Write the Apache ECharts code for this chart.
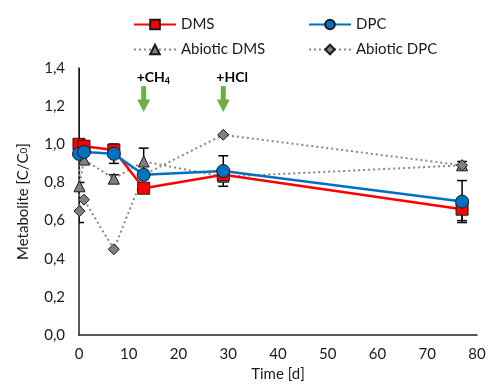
<!DOCTYPE html>
<html>
<head>
<meta charset="utf-8">
<script src="https://cdn.jsdelivr.net/npm/echarts@6/dist/echarts.min.js"></script>
<style>
  html, body { margin: 0; padding: 0; background: #fff; }
  #chart { width: 490px; height: 387px; }
</style>
</head>
<body>
<div id="chart"></div>
<script>
// Sampling times [d] and normalized concentrations C/C0
const timesDMS = [0, 1, 7, 13, 29, 77];
const valuesDMS = [1.00, 0.99, 0.97, 0.77, 0.84, 0.66];
const errDMS = [0.02, 0.02, 0.03, 0.02, 0.02, 0.06];

const timesDPC = [0, 1, 7, 13, 29, 77];
const valuesDPC = [0.95, 0.96, 0.95, 0.84, 0.86, 0.70];
const errDPC = [0.03, 0.02, 0.05, 0.02, 0.08, 0.11];

const timesAbioticDMS = [0, 0.1, 1, 7, 13, 29, 77];
const valuesAbioticDMS = [1.00, 0.78, 0.92, 0.82, 0.91, 0.83, 0.89];
const errAbioticDMS = [0.02, 0.02, 0.02, 0.02, 0.07, 0.02, 0.02];

const timesAbioticDPC = [0, 0.1, 1, 7, 13, 29, 77];
const valuesAbioticDPC = [1.00, 0.65, 0.71, 0.45, 0.84, 1.05, 0.89];
const errAbioticDPC = [0.41, 0.0, 0.0, 0.0, 0.0, 0.0, 0.0];

// Additions during the experiment
const additionTimes = [13, 29];
const additionLabels = [['+CH', '4'], ['+HCl', '']];

const xTicks = { min: 0, max: 80, interval: 10 };
const yTicks = { min: 0, max: 1.4, interval: 0.2 };

const FONT = 'Lato, "Open Sans", sans-serif';

function pairs(xs, ys) { return xs.map((x, i) => [x, ys[i]]); }
function errRows(xs, ys, es) { return xs.map((x, i) => [x, ys[i], es[i]]); }

const allErr = []
  .concat(errRows(timesAbioticDMS, valuesAbioticDMS, errAbioticDMS))
  .concat(errRows(timesAbioticDPC, valuesAbioticDPC, errAbioticDPC))
  .concat(errRows(timesDMS, valuesDMS, errDMS))
  .concat(errRows(timesDPC, valuesDPC, errDPC))
  .filter(r => r[2] > 0);

function renderErr(params, api) {
  const x = api.value(0), y = api.value(1), e = api.value(2);
  const hi = api.coord([x, y + e]);
  const lo = api.coord([x, y - e]);
  const cap = 5;
  const style = { stroke: '#000', lineWidth: 1.5 };
  return {
    type: 'group',
    children: [
      { type: 'line', shape: { x1: hi[0], y1: hi[1], x2: lo[0], y2: lo[1] }, style },
      { type: 'line', shape: { x1: hi[0] - cap, y1: hi[1], x2: hi[0] + cap, y2: hi[1] }, style },
      { type: 'line', shape: { x1: lo[0] - cap, y1: lo[1], x2: lo[0] + cap, y2: lo[1] }, style }
    ]
  };
}

function renderArrow(params, api) {
  const x = api.value(0);
  const top = api.coord([x, 1.305]);
  const bottom = api.coord([x, 1.17]);
  const headTop = api.coord([x, 1.235]);
  const cx = top[0];
  const lbl = additionLabels[params.dataIndex];
  const green = '#70AD47';
  return {
    type: 'group',
    children: [
      { type: 'rect', shape: { x: cx - 2.5, y: top[1], width: 5, height: headTop[1] - top[1] + 1 }, style: { fill: green } },
      { type: 'polygon', shape: { points: [[cx - 6.5, headTop[1]], [cx + 6.5, headTop[1]], [cx, bottom[1]]] }, style: { fill: green } },
      {
        type: 'text',
        x: cx - 7, y: top[1] - 9,
        style: {
          text: '{b|' + lbl[0] + '}' + (lbl[1] ? '{s|' + lbl[1] + '}' : ''),
          verticalAlign: 'middle',
          align: 'left',
          rich: {
            b: { fontFamily: FONT, fontWeight: 'bold', fontSize: 14, fill: '#000', lineHeight: 16 },
            s: { fontFamily: FONT, fontWeight: 'bold', fontSize: 9, fill: '#000', lineHeight: 16, padding: [8, 0, 0, 0] }
          }
        }
      }
    ]
  };
}

const chart = echarts.init(document.getElementById('chart'));

const markerBorder = { borderColor: '#1a1a1a', borderWidth: 1 };

chart.setOption({
  animation: false,
  textStyle: { fontFamily: FONT },
  grid: { left: 79, right: 13, top: 68, bottom: 50 },
  legend: [
    { data: ['DMS'], left: 128, top: 12 },
    { data: ['DPC'], left: 303, top: 12 },
    { data: ['Abiotic DMS'], left: 128, top: 37 },
    { data: ['Abiotic DPC'], left: 303, top: 37 }
  ].map(l => Object.assign({
    itemWidth: 42, itemHeight: 12, itemGap: 5,
    textStyle: { fontFamily: FONT, fontSize: 15, color: '#1a1a1a' }
  }, l)),
  xAxis: {
    type: 'value', min: xTicks.min, max: xTicks.max, interval: xTicks.interval,
    name: 'Time [d]', nameLocation: 'middle', nameGap: 30,
    nameTextStyle: { fontFamily: FONT, fontSize: 15, color: '#1a1a1a' },
    axisLine: { lineStyle: { color: '#222', width: 1.5 } },
    axisTick: { show: false },
    splitLine: { show: false },
    axisLabel: { fontFamily: FONT, fontSize: 15, color: '#1a1a1a', margin: 12 }
  },
  yAxis: {
    type: 'value', min: yTicks.min, max: yTicks.max, interval: yTicks.interval,
    name: 'Metabolite [C/C{s|0}]', nameLocation: 'middle', nameGap: 48,
    nameTextStyle: {
      fontFamily: FONT, fontSize: 15, color: '#1a1a1a',
      rich: { s: { fontFamily: FONT, fontSize: 10, color: '#1a1a1a', padding: [0, 0, 0, 0] } }
    },
    axisLine: { show: true, lineStyle: { color: '#222', width: 1.5 } },
    axisTick: { show: false },
    splitLine: { show: false },
    axisLabel: {
      fontFamily: FONT, fontSize: 15, color: '#1a1a1a', margin: 14,
      formatter: v => v.toFixed(1).replace('.', ',')
    }
  },
  series: [
    {
      name: 'Abiotic DMS', type: 'line', data: pairs(timesAbioticDMS, valuesAbioticDMS),
      symbol: 'triangle', symbolSize: 11,
      lineStyle: { color: '#888', width: 2, type: [2, 3] },
      itemStyle: Object.assign({ color: '#808080' }, markerBorder),
      z: 2
    },
    {
      name: 'Abiotic DPC', type: 'line', data: pairs(timesAbioticDPC, valuesAbioticDPC),
      symbol: 'diamond', symbolSize: 11,
      lineStyle: { color: '#888', width: 2, type: [2, 3] },
      itemStyle: Object.assign({ color: '#808080' }, markerBorder),
      z: 2
    },
    {
      name: 'DMS', type: 'line', data: pairs(timesDMS, valuesDMS),
      symbol: 'rect', symbolSize: 12,
      lineStyle: { color: '#FF0000', width: 2.5 },
      itemStyle: Object.assign({ color: '#FF0000' }, markerBorder),
      z: 3
    },
    {
      name: 'DPC', type: 'line', data: pairs(timesDPC, valuesDPC),
      symbol: 'circle', symbolSize: 13,
      lineStyle: { color: '#0070C0', width: 2.5 },
      itemStyle: Object.assign({ color: '#0070C0' }, markerBorder),
      z: 4
    },
    {
      name: 'errors', type: 'custom', data: allErr, renderItem: renderErr,
      clip: true, z: 1, silent: true
    },
    {
      name: 'additions', type: 'custom', data: additionTimes.map(t => [t]),
      renderItem: renderArrow, clip: false, z: 5, silent: true,
      encode: { x: 0 }
    }
  ]
});
</script>
</body>
</html>
